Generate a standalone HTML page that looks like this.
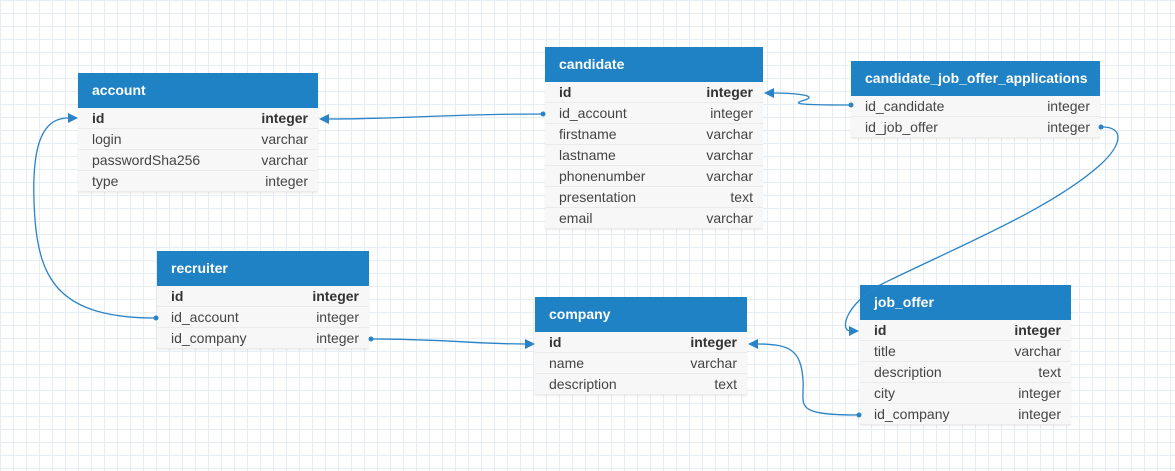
<!DOCTYPE html>
<html><head><meta charset="utf-8"><style>
body{margin:0;width:1175px;height:471px;overflow:hidden;background:#fff;
background-image:linear-gradient(#e6edf3 1px,transparent 1px),linear-gradient(90deg,#e6edf3 1px,transparent 1px);background-size:13px 13px;
font-family:"Liberation Sans",Arial,sans-serif;position:relative}
.t{position:absolute;background:#f7f7f7;box-shadow:0 1px 2px rgba(0,0,0,.08)}
.h{background:#1e82c5;color:#fff;font-weight:bold;font-size:14px;height:35px;line-height:35px;padding-left:14px}
.r{height:21px;line-height:21px;font-size:14px;color:#444;padding:0 10px 0 14px;display:flex;justify-content:space-between;border-bottom:1px solid #ebebeb;box-sizing:border-box}
.b{font-weight:bold;color:#333}
svg{position:absolute;left:0;top:0}
</style></head><body>
<div class="t" style="left:78px;top:73px;width:240px"><div class="h">account</div>
<div class="r b"><span>id</span><span>integer</span></div>
<div class="r"><span>login</span><span>varchar</span></div>
<div class="r"><span>passwordSha256</span><span>varchar</span></div>
<div class="r"><span>type</span><span>integer</span></div></div>

<div class="t" style="left:545px;top:47px;width:218px"><div class="h">candidate</div>
<div class="r b"><span>id</span><span>integer</span></div>
<div class="r"><span>id_account</span><span>integer</span></div>
<div class="r"><span>firstname</span><span>varchar</span></div>
<div class="r"><span>lastname</span><span>varchar</span></div>
<div class="r"><span>phonenumber</span><span>varchar</span></div>
<div class="r"><span>presentation</span><span>text</span></div>
<div class="r"><span>email</span><span>varchar</span></div></div>

<div class="t" style="left:851px;top:61px;width:249px"><div class="h">candidate_job_offer_applications</div>
<div class="r"><span>id_candidate</span><span>integer</span></div>
<div class="r"><span>id_job_offer</span><span>integer</span></div></div>

<div class="t" style="left:157px;top:251px;width:212px"><div class="h">recruiter</div>
<div class="r b"><span>id</span><span>integer</span></div>
<div class="r"><span>id_account</span><span>integer</span></div>
<div class="r"><span>id_company</span><span>integer</span></div></div>

<div class="t" style="left:535px;top:297px;width:212px"><div class="h">company</div>
<div class="r b"><span>id</span><span>integer</span></div>
<div class="r"><span>name</span><span>varchar</span></div>
<div class="r"><span>description</span><span>text</span></div></div>

<div class="t" style="left:860px;top:285px;width:211px"><div class="h">job_offer</div>
<div class="r b"><span>id</span><span>integer</span></div>
<div class="r"><span>title</span><span>varchar</span></div>
<div class="r"><span>description</span><span>text</span></div>
<div class="r"><span>city</span><span>integer</span></div>
<div class="r"><span>id_company</span><span>integer</span></div></div>

<svg width="1175" height="471" fill="none" stroke="#2a83c6" stroke-width="1.3">
<path d="M542 114 C450 114 400 119 328 119"/>
<polygon points="319,119 329,114 329,124" fill="#2a83c6" stroke="none"/>
<circle cx="543" cy="114" r="2.5" fill="#2a83c6" stroke="none"/>

<path d="M849 105 C800 105 790 104 805 100 C820 95 790 93 773 93"/>
<polygon points="764,93 774,88 774,98" fill="#2a83c6" stroke="none"/>
<circle cx="851" cy="105" r="2.5" fill="#2a83c6" stroke="none"/>

<path d="M1102 127 C1125 127 1122 145 1100 165 C1050 210 950 250 880 285 C845 305 840 330 850 331"/>
<polygon points="859,331 849,326 849,336" fill="#2a83c6" stroke="none"/>
<circle cx="1101" cy="127" r="2.5" fill="#2a83c6" stroke="none"/>

<path d="M155 318 C60 318 40 280 35 220 C30 150 40 118 68 118"/>
<polygon points="78,118 68,113 68,123" fill="#2a83c6" stroke="none"/>
<circle cx="156" cy="318" r="2.5" fill="#2a83c6" stroke="none"/>

<path d="M371 339 C450 339 470 344 526 344"/>
<polygon points="535,344 525,339 525,349" fill="#2a83c6" stroke="none"/>
<circle cx="371" cy="339" r="2.5" fill="#2a83c6" stroke="none"/>

<path d="M858 415 C790 415 805 405 803 380 C801 350 790 344 757 344"/>
<polygon points="748,344 758,339 758,349" fill="#2a83c6" stroke="none"/>
<circle cx="859" cy="415" r="2.5" fill="#2a83c6" stroke="none"/>
</svg>
</body></html>
